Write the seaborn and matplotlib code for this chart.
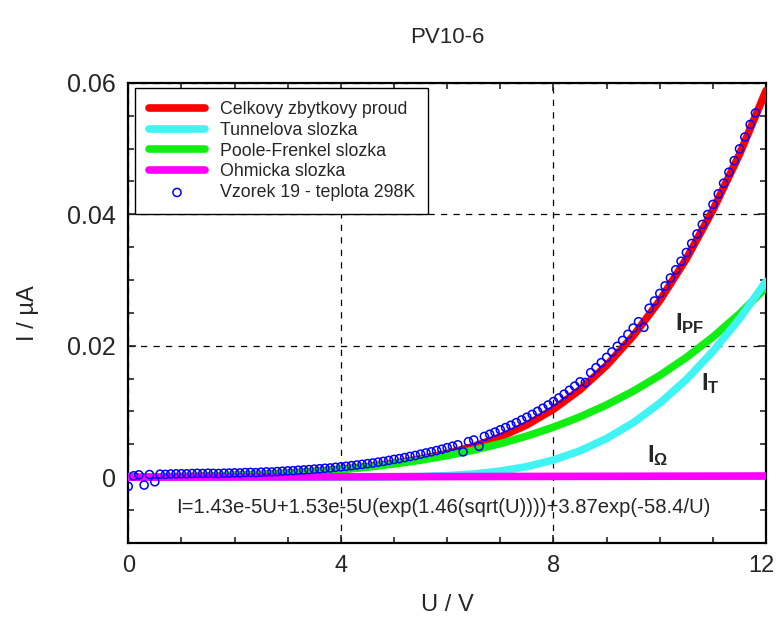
import numpy as np
import pandas as pd
import matplotlib
matplotlib.use('Agg')
import matplotlib.pyplot as plt
import matplotlib.transforms as mtransforms
import seaborn as sns

# model curves, step 0.5 V, currents in 1e-5 uA
U_MODEL = [0.0, 0.5, 1.0, 1.5, 2.0, 2.5, 3.0, 3.5, 4.0, 4.5, 5.0, 5.5, 6.0,
           6.5, 7.0, 7.5, 8.0, 8.5, 9.0, 9.5, 10.0, 10.5, 11.0, 11.5, 12.0]
I_TOTAL = [0, 2.87, 8.02, 15.9, 27.0, 42.1, 61.9, 87.3, 119.4, 159.7, 210.6, 275.6, 359.5,
           468.9, 611.8, 796.7, 1033.6, 1331, 1701, 2150, 2688, 3323, 4065, 4913, 5883]
I_TUNNEL = [0, 0, 0, 0, 0, 0, 0, 0, 0.18, 0.89, 3.27, 9.45, 22.9,
            48.4, 92.1, 160.5, 261.2, 401.3, 588.2, 828, 1126, 1486, 1916, 2411, 2980]
I_PF = [0, 2.15, 6.59, 13.7, 24.1, 38.5, 57.6, 82.3, 113.5, 152.4, 200.2, 258.3, 328.0,
        411.2, 509.7, 625.5, 761.0, 917.9, 1099.4, 1308.4, 1548.1, 1821.7, 2133.4, 2486, 2886]
I_OHM = [0, 0.72, 1.43, 2.15, 2.86, 3.58, 4.29, 5.0, 5.72, 6.44, 7.15, 7.87, 8.58,
         9.3, 10.0, 10.7, 11.4, 12.2, 12.9, 13.6, 14.3, 15.0, 15.7, 16.4, 17.2]

U_MEAS = [round(0.1 * k, 1) for k in range(119)]
I_MEAS = [-140, 20, 35, -120, 40, -70, 45, 42, 48, 50,
          52, 50, 55, 58, 56, 60, 58, 55, 60, 62,
          65, 63, 70, 72, 68, 75, 80, 78, 85, 90,
          95, 98, 105, 110, 115, 122, 128, 135, 140, 150,
          158, 165, 175, 185, 195, 205, 215, 228, 240, 255,
          270, 282, 298, 315, 330, 350, 368, 385, 405, 425,
          448, 470, 492, 385, 540, 565, 470, 620, 652, 685,
          720, 755, 790, 830, 870, 912, 955, 1000, 1048, 1098,
          1150, 1205, 1262, 1322, 1385, 1450, 1440, 1590, 1665, 1742,
          1822, 1905, 1990, 2080, 2172, 2268, 2365, 2280, 2570, 2680,
          2795, 2910, 3030, 3155, 3285, 3418, 3555, 3700, 3845, 3995,
          4150, 4310, 4472, 4640, 4815, 4995, 5175, 5365, 5540]

X_TICKS = [0, 4, 8, 12]
Y_TICKS = [0, 0.02, 0.04, 0.06]
Y_LABELS = ['0', '0.02', '0.04', '0.06']

SCALE = 1e-5

sns.set_style('ticks')
plt.rcParams['font.family'] = ['Liberation Sans', 'DejaVu Sans']
plt.rcParams['mathtext.fontset'] = 'custom'
plt.rcParams['mathtext.rm'] = 'Liberation Sans'
plt.rcParams['mathtext.bf'] = 'Liberation Sans:bold'

fig = plt.figure(figsize=(7.77, 6.32), dpi=100)
ax = fig.add_axes([0.165, 0.141, 0.821, 0.728])

curves = pd.DataFrame({
    'U': U_MODEL,
    'total': np.array(I_TOTAL) * SCALE,
    'tunnel': np.array(I_TUNNEL) * SCALE,
    'pf': np.array(I_PF) * SCALE,
    'ohm': np.array(I_OHM) * SCALE,
})
meas = pd.DataFrame({'U': U_MEAS, 'I': np.array(I_MEAS) * SCALE})

lw = 5.5
sns.lineplot(data=curves, x='U', y='total', color='#ff0000', lw=lw, ax=ax,
             label='Celkovy zbytkovy proud', solid_capstyle='round', zorder=3)
sns.lineplot(data=curves, x='U', y='pf', color='#11ee11', lw=lw, ax=ax,
             label='Poole-Frenkel slozka', solid_capstyle='round', zorder=4)
sns.lineplot(data=curves, x='U', y='tunnel', color='#40f4f4', lw=lw, ax=ax,
             label='Tunnelova slozka', solid_capstyle='round', zorder=5)
sns.lineplot(data=curves, x='U', y='ohm', color='#ff00ff', lw=lw, ax=ax,
             label='Ohmicka slozka', solid_capstyle='round', zorder=6)
sns.scatterplot(data=meas, x='U', y='I', ax=ax, s=34, facecolor='none',
                edgecolor='#0000ff', linewidth=1.1, zorder=7,
                label='Vzorek 19 - teplota 298K')

ax.set_xlim(0, 12)
ax.set_ylim(-0.01, 0.06)
ax.set_xticks(X_TICKS)
ax.set_xticklabels([str(t) for t in X_TICKS])
ax.set_yticks(Y_TICKS)
ax.set_yticklabels(Y_LABELS)
ax.set_xticks(np.arange(0, 12.1, 1), minor=True)
ax.set_yticks(np.arange(-0.01, 0.0601, 0.005), minor=True)
ax.tick_params(which='both', direction='in', top=True, right=True, width=1.2)
ax.tick_params(which='major', length=6, labelsize=18, pad=9)
ax.tick_params(axis='x', which='major', labelsize=17)
ax.tick_params(which='minor', length=4)
for s in ax.spines.values():
    s.set_linewidth(1.6)
    s.set_color('black')
ax.grid(True, which='major', color='black', linestyle=(0, (5, 5)), linewidth=0.9)

# nudge the last x label so it stays inside the figure
last = ax.get_xticklabels()[-1]
last.set_transform(last.get_transform() +
                   mtransforms.ScaledTranslation(-5 / 100, 0, fig.dpi_scale_trans))

ax.set_xlabel('U / V', fontsize=17, labelpad=12)
ax.set_ylabel('I / µA', fontsize=17, labelpad=20)
ax.set_title('PV10-6', fontsize=16, pad=29)

ax.text(5.92, -0.0046, 'I=1.43e-5U+1.53e-5U(exp(1.46(sqrt(U))))+3.87exp(-58.4/U)',
        ha='center', va='center', fontsize=14.6)
ax.text(10.29, 0.0224, r'$\mathbf{I_{PF}}$', fontsize=17, ha='left', va='baseline')
ax.text(10.77, 0.0133, r'$\mathbf{I_{T}}$', fontsize=17, ha='left', va='baseline')
ax.text(9.76, 0.0023, r'$\mathbf{I_{\Omega}}$', fontsize=17, ha='left', va='baseline')

handles, labels = ax.get_legend_handles_labels()
order = [0, 2, 1, 3, 4]
leg = ax.legend([handles[i] for i in order], [labels[i] for i in order],
                loc='upper left', bbox_to_anchor=(0.011, 0.989), fontsize=12.8,
                frameon=True, fancybox=False, edgecolor='black', framealpha=1,
                handlelength=3.2, handletextpad=0.8, labelspacing=0.21,
                borderpad=0.75, borderaxespad=0)
leg.get_frame().set_linewidth(1.0)
leg.set_zorder(10)

fig.savefig('out.png', dpi=100)
